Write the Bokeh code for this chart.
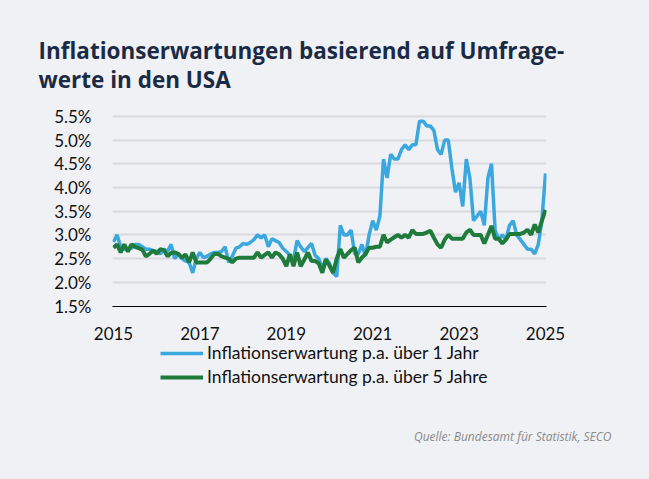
from bokeh.plotting import figure
from bokeh.layouts import column
from bokeh.models import FixedTicker, PrintfTickFormatter, Legend, LegendItem, ColumnDataSource, Title, Label
from bokeh.embed import file_html
from bokeh.resources import INLINE

# Monthly survey values, Feb 2015 .. Feb 2025 (in %)
one_year = [
    2.85, 3.0, 2.75, 2.7, 2.7, 2.72, 2.8, 2.8, 2.75, 2.7, 2.7, 2.67,
    2.65, 2.6, 2.7, 2.65, 2.8, 2.5, 2.6, 2.5, 2.45, 2.42, 2.2, 2.5,
    2.63, 2.52, 2.55, 2.6, 2.63, 2.63, 2.65, 2.75, 2.42, 2.55, 2.72, 2.75,
    2.82, 2.8, 2.84, 2.9, 3.0, 2.94, 3.0, 2.75, 2.92, 2.88, 2.84, 2.72,
    2.65, 2.57, 2.48, 2.88, 2.75, 2.65, 2.73, 2.82, 2.57, 2.5, 2.3, 2.5,
    2.4, 2.2, 2.12, 3.2, 3.0, 3.0, 3.1, 2.6, 2.6, 2.8, 2.55, 3.0,
    3.3, 3.1, 3.4, 4.6, 4.2, 4.7, 4.6, 4.6, 4.8, 4.9, 4.8, 4.9,
    4.9, 5.4, 5.4, 5.3, 5.3, 5.2, 4.8, 4.7, 5.0, 5.0, 4.4, 3.9,
    4.1, 3.6, 4.6, 4.2, 3.3, 3.4, 3.5, 3.2, 4.2, 4.5, 3.1, 2.9,
    3.0, 2.9, 3.2, 3.3, 3.0, 2.9, 2.8, 2.7, 2.7, 2.6, 2.8, 3.3,
    4.3,
]
five_year = [
    2.73, 2.8, 2.63, 2.8, 2.65, 2.8, 2.75, 2.72, 2.69, 2.55, 2.6, 2.67,
    2.6, 2.7, 2.68, 2.55, 2.62, 2.63, 2.6, 2.52, 2.59, 2.42, 2.63, 2.42,
    2.42, 2.42, 2.42, 2.5, 2.6, 2.6, 2.55, 2.52, 2.5, 2.42, 2.5, 2.52,
    2.52, 2.52, 2.52, 2.52, 2.63, 2.52, 2.58, 2.63, 2.52, 2.63, 2.59, 2.5,
    2.34, 2.59, 2.34, 2.63, 2.34, 2.48, 2.63, 2.45, 2.45, 2.4, 2.2, 2.48,
    2.35, 2.2, 2.5, 2.7, 2.52, 2.6, 2.68, 2.73, 2.42, 2.52, 2.6, 2.73,
    2.73, 2.75, 2.75, 3.0, 2.84, 2.9, 2.95, 3.0, 2.94, 3.0, 2.94, 3.1,
    3.02, 3.02, 3.02, 3.05, 3.09, 2.94, 2.8, 2.73, 2.9, 3.0, 2.92, 2.92,
    2.92, 2.92, 3.05, 3.11, 3.0, 3.0, 3.0, 2.82, 3.0, 3.19, 2.92, 2.92,
    2.82, 2.9, 3.02, 3.02, 3.02, 3.02, 3.05, 3.11, 3.0, 3.22, 3.05, 3.3,
    3.53,
]
x_ticks = [2015, 2017, 2019, 2021, 2023, 2025]
y_ticks = [1.5, 2.0, 2.5, 3.0, 3.5, 4.0, 4.5, 5.0, 5.5]
series_names = ["Inflationserwartung p.a. über 1 Jahr", "Inflationserwartung p.a. über 5 Jahre"]
title_lines = ["Inflationserwartungen basierend auf Umfrage-", "werte  in den USA"]
source_text = "Quelle: Bundesamt für Statistik, SECO"

BLUE = "#3AA8DE"
GREEN = "#1E7B3C"
BG = "#F0F1F5"

dates = [2015 + i / 12 for i in range(len(one_year))]
src = ColumnDataSource(dict(x=dates, one=one_year, five=five_year))

# ---- chart ----
p = figure(width=649, height=342, output_backend="svg", toolbar_location=None,
           x_range=(2014.977, 2025.023), y_range=(1.49, 5.54),
           min_border_left=112, min_border_right=103, min_border_top=114, min_border_bottom=35,
           background_fill_color=BG, border_fill_color=BG, outline_line_color=None)

p.line("x", "one", source=src, line_color=BLUE, line_width=3.5)
p.line("x", "five", source=src, line_color=GREEN, line_width=4)

p.xgrid.visible = False
p.ygrid.ticker = FixedTicker(ticks=y_ticks[1:])
p.ygrid.grid_line_color = "#D9DADD"
p.ygrid.grid_line_width = 2

p.yaxis.ticker = FixedTicker(ticks=y_ticks)
p.yaxis.formatter = PrintfTickFormatter(format="%.1f%%")
p.yaxis.axis_line_color = None
p.yaxis.major_tick_line_color = None
p.yaxis.minor_tick_line_color = None
p.yaxis.major_label_standoff = 15
p.yaxis.major_label_text_font = "Lato"
p.yaxis.major_label_text_font_size = "17px"
p.yaxis.major_label_text_color = "#111111"

p.xaxis.ticker = FixedTicker(ticks=x_ticks)
p.xaxis.axis_line_color = "#000000"
p.xaxis.axis_line_width = 1
p.xaxis.major_tick_line_color = None
p.xaxis.minor_tick_line_color = None
p.xaxis.major_label_standoff = 14
p.xaxis.major_label_text_font = "Lato"
p.xaxis.major_label_text_font_size = "17px"
p.xaxis.major_label_text_color = "#111111"

p.add_layout(Title(text="\n".join(title_lines), align="left", offset=-74, vertical_align="bottom",
                   standoff=38, text_font="Open Sans", text_font_style="bold", text_font_size="22.5px",
                   text_line_height=0.96, text_color="#1B2B45"), "above")

# ---- legend + source strip ----
q = figure(width=649, height=137, output_backend="svg", toolbar_location=None,
           x_range=(0, 649), y_range=(0, 137), x_axis_type=None, y_axis_type=None,
           min_border=0, min_border_left=0, min_border_right=0, min_border_top=0, min_border_bottom=0,
           background_fill_color=BG, border_fill_color=BG, outline_line_color=None)
q.xgrid.visible = False
q.ygrid.visible = False
nan = float("nan")
k1 = q.line(x=[nan, nan], y=[nan, nan], line_color=BLUE, line_width=3.5)
k2 = q.line(x=[nan, nan], y=[nan, nan], line_color=GREEN, line_width=4)

for fig in (p, q):
    if "frame_align" in fig.properties():
        fig.frame_align = False

legend = Legend(items=[LegendItem(label=series_names[0], renderers=[k1]),
                       LegendItem(label=series_names[1], renderers=[k2])],
                location=(158, 90), orientation="vertical",
                glyph_width=43, glyph_height=20, label_height=20, spacing=3,
                label_standoff=4, padding=2, margin=0,
                label_text_font="Lato", label_text_font_size="17.5px", label_text_color="#111111",
                background_fill_alpha=0, border_line_alpha=0)
q.add_layout(legend, "center")

q.add_layout(Label(x=611, y=43, x_units="screen", y_units="screen", text=source_text,
                   text_font="Open Sans", text_font_style="italic", text_font_size="12px",
                   text_color="#8A8A8A", text_align="right", text_baseline="alphabetic"))

layout = column(p, q, spacing=0, styles={"background-color": BG})
open("out.html", "w").write(file_html(layout, INLINE))
